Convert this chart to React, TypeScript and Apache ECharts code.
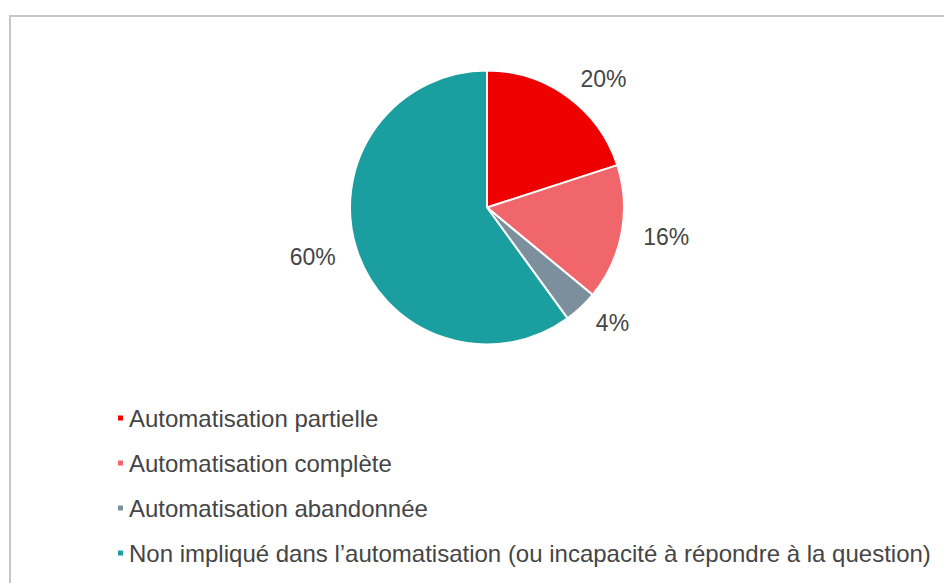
import React, { useEffect, useRef } from "react";
import * as echarts from "echarts";

const categories = [
  "Automatisation partielle",
  "Automatisation complète",
  "Automatisation abandonnée",
  "Non impliqué dans l’automatisation (ou incapacité à répondre à la question)",
];
const values = [20, 16, 4, 60];
const colors = ["#ee0000", "#f0666a", "#7b8f9c", "#1a9e9f"];

const FONT = "'Liberation Sans', Arial, Helvetica, sans-serif";

export default function App() {
  const ref = useRef<HTMLDivElement>(null);
  useEffect(() => {
    if (!ref.current) return;
    const chart = echarts.init(ref.current, undefined, { renderer: "svg" });
    chart.setOption({
      animation: false,
      backgroundColor: "#ffffff",
      color: colors,
      graphic: [
        {
          type: "rect",
          silent: true,
          shape: { x: 2, y: 8, width: 2000, height: 2000 },
          style: { fill: "none", stroke: "#c6c6c6", lineWidth: 2 },
        },
      ],
      legend: {
        orient: "vertical",
        left: 103,
        top: 393,
        icon: "rect",
        itemWidth: 7,
        itemHeight: 7,
        itemGap: 21,
        selectedMode: false,
        textStyle: { fontFamily: FONT, fontSize: 24, color: "#454545" },
        data: categories,
      },
      series: [
        {
          type: "pie",
          center: [479, 199.5],
          radius: 137,
          startAngle: 90,
          clockwise: true,
          avoidLabelOverlap: false,
          itemStyle: { borderColor: "#ffffff", borderWidth: 2 },
          label: {
            show: true,
            position: "outside",
            formatter: "{c}%",
            fontFamily: FONT,
            fontSize: 23,
            color: "#454545",
            distanceToLabelLine: 0,
          },
          labelLine: { show: false, length: 22, length2: 0 },
          emphasis: { disabled: true },
          data: categories.map((name, i) => ({ name, value: values[i] })),
        },
      ],
    });
    return () => chart.dispose();
  }, []);
  return <div ref={ref} style={{ width: 944, height: 575 }} />;
}
